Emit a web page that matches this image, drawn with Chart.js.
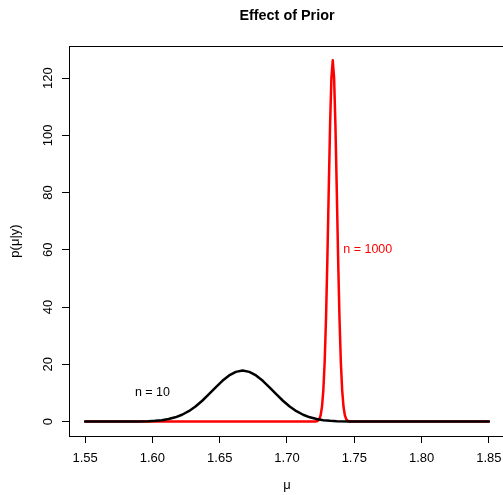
<!DOCTYPE html>
<html><head><meta charset="utf-8">
<script src="https://cdn.jsdelivr.net/npm/chart.js@4"></script>
<style>html,body{margin:0;padding:0;background:#fff;overflow:hidden}#wrap{width:503px;height:495px;overflow:hidden;position:relative;background:#fff}canvas{display:block}</style>
</head><body><div id="wrap"><canvas id="c" width="510" height="495"></canvas></div>
<script>
const chartTitle = 'Effect of Prior';
const xLabel = 'μ';
const yLabel = 'p(μ|y)';
const xTicks = [1.55, 1.60, 1.65, 1.70, 1.75, 1.80, 1.85];
const yTicks = [0, 20, 40, 60, 80, 100, 120];

// n = 10 posterior (black)
const muSmall = [1.550, 1.567, 1.577, 1.587, 1.597, 1.602, 1.607, 1.612, 1.617, 1.622, 1.627, 1.632, 1.637, 1.642, 1.647, 1.652, 1.657, 1.662, 1.667,
                 1.672, 1.677, 1.682, 1.687, 1.692, 1.697, 1.702, 1.707, 1.712, 1.717, 1.722, 1.727, 1.732, 1.737, 1.747, 1.757, 1.767, 1.850];
const densSmall = [0, 0.001, 0.005, 0.03, 0.135, 0.265, 0.49, 0.875, 1.48, 2.37, 3.61, 5.25, 7.27, 9.55, 11.95, 14.23, 16.11, 17.36, 17.8,
                   17.36, 16.11, 14.23, 11.95, 9.55, 7.27, 5.25, 3.61, 2.37, 1.48, 0.875, 0.49, 0.265, 0.135, 0.03, 0.005, 0.001, 0];

// n = 1000 posterior (red)
const muLarge = [1.550, 1.720, 1.721, 1.722, 1.723, 1.724, 1.725, 1.726, 1.727, 1.728, 1.729, 1.730, 1.731, 1.732, 1.733, 1.734,
                 1.735, 1.736, 1.737, 1.738, 1.739, 1.740, 1.741, 1.742, 1.743, 1.744, 1.745, 1.746, 1.747, 1.748, 1.850];
const densLarge = [0, 0, 0.02, 0.09, 0.30, 0.85, 2.2, 5.15, 10.9, 20.9, 36.2, 56.7, 80.5, 103.3, 120.0, 126.2,
                   120.0, 103.3, 80.5, 56.7, 36.2, 20.9, 10.9, 5.15, 2.2, 0.85, 0.30, 0.09, 0.02, 0, 0];

const labels = [
  {text: 'n = 10', x: 1.60, y: 10, color: '#000000'},
  {text: 'n = 1000', x: 1.76, y: 60, color: '#FF0000'}
];

const FONT = '"Liberation Sans", Arial, Helvetica, sans-serif';

const textPlugin = {
  id: 'rtext',
  afterDraw(chart) {
    const ctx = chart.ctx, a = chart.chartArea;
    const xs = chart.scales.x, ys = chart.scales.y;
    ctx.save();
    // box
    ctx.strokeStyle = '#000'; ctx.lineWidth = 1;
    ctx.strokeRect(Math.round(a.left) + 0.5, Math.round(a.top) + 0.5, Math.round(a.right - a.left), Math.round(a.bottom - a.top));
    ctx.fillStyle = '#000';
    // title
    ctx.font = 'bold 14.4px ' + FONT;
    ctx.textAlign = 'center'; ctx.textBaseline = 'alphabetic';
    ctx.fillText(chartTitle, (a.left + a.right) / 2, 20);
    // x label
    ctx.font = '13px ' + FONT;
    ctx.fillText(xLabel, (a.left + a.right) / 2, 489);
    // y tick labels
    yTicks.forEach(v => {
      const py = ys.getPixelForValue(v);
      ctx.save(); ctx.translate(52, py); ctx.rotate(-Math.PI / 2);
      ctx.textAlign = 'center'; ctx.textBaseline = 'alphabetic';
      ctx.fillText(String(v), 0, 0);
      ctx.restore();
    });
    // y label
    ctx.save(); ctx.translate(19, (a.top + a.bottom) / 2); ctx.rotate(-Math.PI / 2);
    ctx.textAlign = 'center'; ctx.textBaseline = 'alphabetic';
    ctx.fillText(yLabel, 0, 0);
    ctx.restore();
    // in-plot labels
    ctx.font = '12.5px ' + FONT;
    ctx.textAlign = 'center'; ctx.textBaseline = 'middle';
    labels.forEach(l => {
      ctx.fillStyle = l.color;
      ctx.fillText(l.text, xs.getPixelForValue(l.x), ys.getPixelForValue(l.y));
    });
    ctx.restore();
  }
};

new Chart(document.getElementById('c'), {
  type: 'scatter',
  data: {
    datasets: [
      {label: 'n = 10', data: muSmall.map((m, i) => ({x: m, y: densSmall[i]})), showLine: true,
       borderColor: '#000000', borderWidth: 2.5, pointRadius: 0, tension: 0, borderJoinStyle: 'round', borderCapStyle: 'round'},
      {label: 'n = 1000', data: muLarge.map((m, i) => ({x: m, y: densLarge[i]})), showLine: true,
       borderColor: '#FF0000', borderWidth: 2.5, pointRadius: 0, tension: 0, borderJoinStyle: 'round', borderCapStyle: 'round'}
    ]
  },
  options: {
    responsive: false, devicePixelRatio: 1, animation: false,
    layout: {padding: {left: 0, right: 5, top: 46, bottom: 0}},
    plugins: {legend: {display: false}, tooltip: {enabled: false}, title: {display: false}},
    scales: {
      x: {
        type: 'linear', min: 1.538, max: 1.862,
        afterBuildTicks: s => { s.ticks = xTicks.map(v => ({value: v})); },
        afterFit: s => { s.height = 59; },
        grid: {drawOnChartArea: false, drawTicks: true, tickLength: 7, color: '#000', lineWidth: 1},
        border: {display: false},
        ticks: {color: '#000', font: {family: FONT, size: 13}, padding: 8, maxRotation: 0, minRotation: 0, autoSkip: false,
                callback: v => Number(v).toFixed(2)}
      },
      y: {
        type: 'linear', min: -5.05, max: 131.2,
        afterBuildTicks: s => { s.ticks = yTicks.map(v => ({value: v})); },
        afterFit: s => { s.width = 69; },
        grid: {drawOnChartArea: false, drawTicks: true, tickLength: 7, color: '#000', lineWidth: 1},
        border: {display: false},
        ticks: {display: false}
      }
    }
  },
  plugins: [textPlugin]
});
</script></body></html>
